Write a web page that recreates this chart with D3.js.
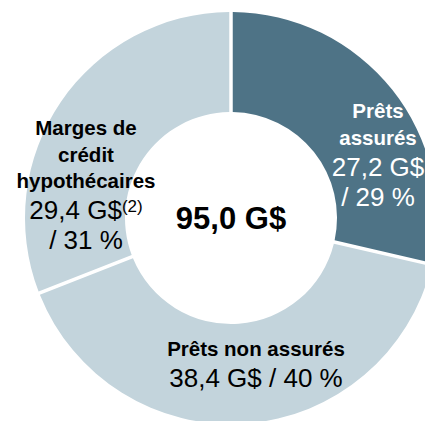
<!DOCTYPE html>
<html>
<head>
<meta charset="utf-8">
<script src="https://cdn.jsdelivr.net/npm/d3@7"></script>
<style>
  html, body { margin: 0; padding: 0; background: #fff; }
  text { font-family: "Liberation Sans", Arial, Helvetica, sans-serif; }
</style>
</head>
<body>
<svg id="chart" width="425" height="421"></svg>
<script>
// segments, clockwise from 12 o'clock
const names = ['Prêts assurés', 'Prêts non assurés', 'Marges de crédit hypothécaires'];
const values = [27.2, 38.4, 29.4];
const shares = [29, 40, 31];
const notes = ['', '', '(2)'];
const total = '95,0 G$';

// label lines per segment (wrapping as in the original)
const nameLines = [['Prêts', 'assurés'], ['Prêts non assurés'], ['Marges de', 'crédit', 'hypothécaires']];

const fmt = v => d3.format('.1f')(v).replace('.', ',');

const cx = 231, cy = 218;
const rOuter = 206, rInner = 106;

const svg = d3.select('#chart');
const g = svg.append('g').attr('transform', 'translate(' + cx + ',' + cy + ')');

const color = d3.scaleOrdinal()
  .domain(names)
  .range(['#4e7386', '#c3d4dc', '#c3d4dc']);

const pie = d3.pie().sort(null).value(d => d.value);
const arc = d3.arc()
  .innerRadius(rInner)
  .outerRadius(rOuter)
  .padRadius(rOuter)
  .padAngle(3.5 / rOuter);

const data = names.map((n, i) => ({ name: n, value: values[i], share: shares[i], note: notes[i], lines: nameLines[i] }));

g.selectAll('path.slice')
  .data(pie(data))
  .enter()
  .append('path')
  .attr('class', 'slice')
  .attr('fill', d => color(d.data.name))
  .attr('d', arc);

// label anchors (first baseline), relative to chart centre
const labelAt = [
  { x: 147, y: -100, fill: '#fff', split: true },
  { x: 25, y: 138, fill: '#000', split: false },
  { x: -145, y: -83, fill: '#000', split: true }
];

const boldLH = 26.5, regLH = 30;

data.forEach((d, i) => {
  const p = labelAt[i];
  const t = g.append('text')
    .attr('text-anchor', 'middle')
    .attr('fill', p.fill);
  let y = p.y;
  d.lines.forEach((ln, j) => {
    t.append('tspan')
      .attr('x', p.x).attr('y', y)
      .attr('font-weight', 'bold')
      .attr('font-size', 20.5)
      .text(ln);
    y += boldLH;
  });
  y += regLH - boldLH + 1;
  const valTxt = fmt(d.value) + ' G$';
  const pctTxt = '/ ' + d.share + ' %';
  if (p.split) {
    const line1 = t.append('tspan')
      .attr('x', p.x).attr('y', y)
      .attr('font-size', 26)
      .text(valTxt);
    if (d.note) {
      line1.append('tspan')
        .attr('font-size', 17)
        .attr('dy', -7)
        .text(d.note);
    }
    y += regLH;
    t.append('tspan')
      .attr('x', p.x).attr('y', y)
      .attr('font-size', 26)
      .text(pctTxt);
  } else {
    t.append('tspan')
      .attr('x', p.x).attr('y', y)
      .attr('font-size', 26)
      .text(valTxt + ' ' + pctTxt);
  }
});

g.append('text')
  .attr('text-anchor', 'middle')
  .attr('x', 0)
  .attr('y', 11)
  .attr('font-weight', 'bold')
  .attr('font-size', 31)
  .attr('fill', '#000')
  .text(total);
</script>
</body>
</html>
